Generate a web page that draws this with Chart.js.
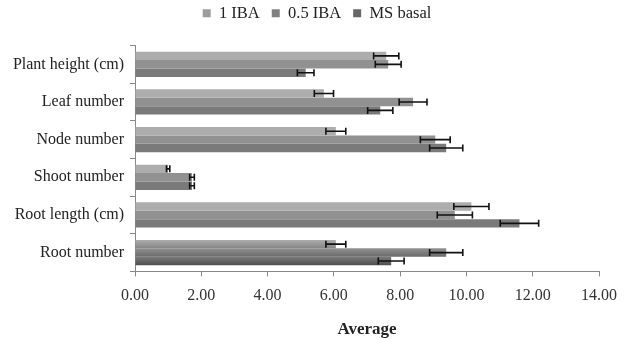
<!DOCTYPE html>
<html lang="en">
<head>
  <meta charset="UTF-8" />
  <title>Average</title>
  <script src="https://cdn.jsdelivr.net/npm/chart.js"></script>
  <style>
    html, body { margin: 0; padding: 0; background: #fff; }
    .wrap { width: 627px; height: 340px; position: relative; }
  </style>
</head>
<body>
  <div class="wrap">
    <canvas id="grafico" width="627" height="340"></canvas>
  </div>
  <script>
    const categorias = ['Plant height (cm)', 'Leaf number', 'Node number', 'Shoot number', 'Root length (cm)', 'Root number'];
    const iba1 = [7.58, 5.70, 6.06, 1.00, 10.15, 6.06];
    const iba05 = [7.64, 8.39, 9.06, 1.72, 9.65, 9.39];
    const msBasal = [5.15, 7.40, 9.39, 1.72, 11.60, 7.73];
    const iba1Err = [0.38, 0.29, 0.30, 0.05, 0.53, 0.30];
    const iba05Err = [0.39, 0.42, 0.45, 0.07, 0.53, 0.50];
    const msBasalErr = [0.25, 0.38, 0.50, 0.07, 0.58, 0.39];

    const serif = "'Liberation Serif', 'DejaVu Serif', serif";

    // espaço extra abaixo da legenda e legenda centrada na página
    const legendaAjuste = {
      id: 'legendaAjuste',
      beforeInit(chart) {
        const fit = chart.legend.fit;
        chart.legend.fit = function () {
          fit.call(this);
          this.height += 14;
        };
      },
      afterLayout(chart) {
        chart.legend.left += 14;
        chart.legend.right += 14;
      }
    };

    // sombreado vertical em cada barra
    const sombra = {
      id: 'sombra',
      beforeDatasetsDraw(chart) {
        const ctx = chart.ctx;
        chart.data.datasets.forEach((ds, i) => {
          const meta = chart.getDatasetMeta(i);
          meta.data.forEach(el => {
            const h = el.height;
            const g = ctx.createLinearGradient(0, el.y - h / 2, 0, el.y + h / 2);
            g.addColorStop(0, ds.cores[0]);
            g.addColorStop(1, ds.cores[1]);
            el.options.backgroundColor = g;
          });
        });
      }
    };

    const barrasErro = {
      id: 'barrasErro',
      afterDatasetsDraw(chart) {
        const ctx = chart.ctx;
        const x = chart.scales.x;
        ctx.save();
        ctx.strokeStyle = '#111';
        ctx.lineWidth = 1.6;
        chart.data.datasets.forEach((ds, i) => {
          const meta = chart.getDatasetMeta(i);
          meta.data.forEach((el, j) => {
            const v = ds.data[j], e = ds.erros[j];
            const x1 = x.getPixelForValue(v - e);
            const x2 = x.getPixelForValue(v + e);
            const y = el.y;
            ctx.beginPath();
            ctx.moveTo(x1, y); ctx.lineTo(x2, y);
            ctx.moveTo(x1, y - 3.5); ctx.lineTo(x1, y + 3.5);
            ctx.moveTo(x2, y - 3.5); ctx.lineTo(x2, y + 3.5);
            ctx.stroke();
          });
        });
        ctx.restore();
      }
    };

    const ctx = document.getElementById('grafico').getContext('2d');
    new Chart(ctx, {
      type: 'bar',
      data: {
        labels: categorias,
        datasets: [
          { label: '1 IBA', data: iba1, erros: iba1Err, backgroundColor: '#9c9c9c', cores: ['#adadad', '#858585'] },
          { label: '0.5 IBA', data: iba05, erros: iba05Err, backgroundColor: '#808080', cores: ['#919191', '#6a6a6a'] },
          { label: 'MS basal', data: msBasal, erros: msBasalErr, backgroundColor: '#676767', cores: ['#7a7a7a', '#4e4e4e'] }
        ]
      },
      options: {
        indexAxis: 'y',
        responsive: false,
        animation: false,
        layout: { padding: { top: -7, right: 25, bottom: 0, left: 4 } },
        datasets: { bar: { categoryPercentage: 0.67, barPercentage: 1.0 } },
        scales: {
          x: {
            min: 0,
            max: 14,
            ticks: {
              stepSize: 2,
              color: '#333',
              font: { family: serif, size: 16 },
              padding: 10,
              callback: v => Number(v).toFixed(2)
            },
            grid: { drawOnChartArea: false, tickLength: 5, color: '#888' },
            border: { color: '#888' },
            title: {
              display: true,
              text: 'Average',
              color: '#222',
              font: { family: serif, size: 17, weight: 'bold' },
              padding: { top: 4, bottom: 0 }
            }
          },
          y: {
            ticks: { color: '#222', font: { family: serif, size: 16 }, padding: 6 },
            grid: { drawOnChartArea: false, tickLength: 5, color: '#888', offset: true },
            border: { color: '#888' },
            afterFit: s => { s.width = 131; }
          }
        },
        plugins: {
          legend: {
            position: 'top',
            labels: {
              boxWidth: 8,
              boxHeight: 8,
              color: '#222',
              font: { family: serif, size: 16.5 },
              padding: 12
            }
          },
          tooltip: { enabled: false }
        }
      },
      plugins: [legendaAjuste, sombra, barrasErro]
    });
  </script>
</body>
</html>
